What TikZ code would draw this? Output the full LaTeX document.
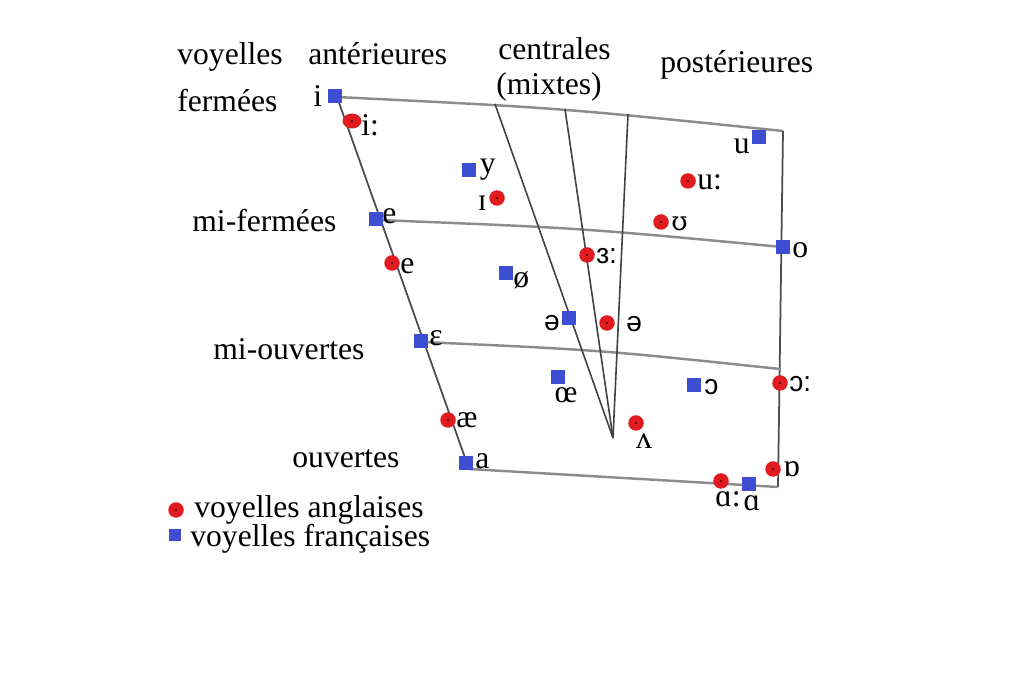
\documentclass[tikz,border=0pt]{standalone}
\usepackage{fontspec}
\usetikzlibrary{shapes.geometric}
\setmainfont{Liberation Serif}
\newfontfamily\ipasans{Liberation Sans}
\newfontfamily\ipaserif{DejaVu Serif}
\begin{document}
\begin{tikzpicture}[x=0.02cm,y=-0.02cm,
  txt/.style={font=\fontsize{18}{20}\selectfont, inner sep=0pt, anchor=base west},
  sym/.style={font=\fontsize{18}{20}\selectfont, inner sep=0pt},
  symsans/.style={font=\fontsize{16}{18}\selectfont\ipasans, inner sep=0pt},
  fr/.style={draw=none, fill=frblue, minimum size=14.5*0.02cm, inner sep=0pt, rectangle},
  en/.style={draw=none, fill=enred, circle, minimum size=15.5*0.02cm, inner sep=0pt,
    path picture={\fill[black!70!red] (path picture bounding box.center) circle (0.6pt);}},
  frame/.style={draw=black!45, line width=1.4pt},
  framedark/.style={draw=black!70, line width=1pt},
  cline/.style={draw=black!75, line width=0.9pt}
]
\definecolor{frblue}{RGB}{62,78,210}
\definecolor{enred}{RGB}{225,28,32}
\useasboundingbox (0,0) rectangle (1018,688);
\fill[white] (0,0) rectangle (1018,688);

% frame corners
\coordinate (TL) at (337,97);
\coordinate (TR) at (783,131);
\coordinate (BR) at (778,487);
\coordinate (BL) at (469,469);
\coordinate (ML1) at (378,220);
\coordinate (MR1) at (782,247);
\coordinate (ML2) at (423,342);
\coordinate (MR2) at (780,369);
\coordinate (C) at (613,438);
\coordinate (c1) at (495,104);
\coordinate (c2) at (565,109);
\coordinate (c3) at (628,114);

% frame
\draw[frame] (TL) .. controls (560,108) .. (TR);
\draw[framedark] (TR) -- (BR);
\draw[frame] (BL) -- (BR);
\draw[framedark] (TL) -- (BL);
\draw[frame] (ML1) .. controls (580,228) .. (MR1);
\draw[frame] (ML2) .. controls (600,350) .. (MR2);
\draw[cline] (c1) -- (C);
\draw[cline] (c2) -- (C);
\draw[cline] (c3) -- (C);

% headings
\node[txt] (hv) at (177,65) {voyelles};
\node[txt] (ha) at (308,65) {antérieures};
\node[txt] (hc) at (498,60) {centrales};
\node[txt] (hm) at (496,95) {(mixtes)};
\node[txt] (hp) at (660,73) {postérieures};
\node[txt] (lf) at (177,112) {fermées};
\node[txt] (lmf) at (192,232) {mi-fermées};
\node[txt] (lmo) at (213,360) {mi-ouvertes};
\node[txt] (lo) at (292,468) {ouvertes};

% French vowels (blue squares)
\node[fr] (fi) at (335,96) {};
\node[sym, anchor=east] (fil) at ([xshift=-5*0.02cm]fi.west) {i};
\node[fr] (fy) at (469,170) {};
\node[sym, anchor=west] (fyl) at ([xshift=3*0.02cm]fy.east) {y};
\node[fr] (fu) at (759,137) {};
\node[sym, anchor=east] (ful) at (750,146) {u};
\node[fr] (fe) at (376,219) {};
\node[sym, anchor=west] (fel) at (382,216) {e};
\node[fr] (fo) at (783,247) {};
\node[sym, anchor=west] (fol) at (792,250) {o};
\node[fr] (foe) at (506,273) {};
\node[sym, anchor=west] (foel) at (513,280) {ø};
\node[fr] (fschwa) at (569,318) {};
\node[symsans, anchor=east] (fschwal) at (560,323) {ə};
\node[fr] (feps) at (421,341) {};
\node[sym, anchor=west] (fepsl) at (429,338) {ɛ};
\node[fr] (foelig) at (558,377) {};
\node[sym] (foeligl) at (566,395) {œ};
\node[fr] (fopen) at (694,385) {};
\node[symsans, anchor=west] (fopenl) at (704,387) {ɔ};
\node[fr] (fa) at (466,463) {};
\node[sym, anchor=west] (fal) at (475,461) {a};
\node[fr] (falpha) at (749,484) {};
\node[sym] (falphal) at (752,503) {ɑ};

% English vowels (red circles)
\node[en, ellipse, minimum width=19*0.02cm, minimum height=15*0.02cm] (ei) at (352,121) {};
\node[sym, anchor=west] (eil) at (361,125) {i:};
\node[en] (eI) at (497,198) {};
\node[sym, anchor=east] (eIl) at (487,203) {ɪ};
\node[en] (eu) at (688,181) {};
\node[sym, anchor=west] (eul) at (697,182) {u:};
\node[en] (eU) at (661,222) {};
\node[font=\fontsize{15}{17}\selectfont\ipaserif, inner sep=0pt, anchor=west] (eUl) at (671,224) {ʊ};
\node[en] (ee) at (392,263) {};
\node[sym, anchor=west] (eel) at (400,266) {e};
\node[en] (e3) at (587,255) {};
\node[symsans, anchor=west] (e3l) at (596,256) {ɜ:};
\node[en] (eschwa) at (607,323) {};
\node[symsans, anchor=west] (eschwal) at (626,324) {ə};
\node[en] (eopen) at (780,383) {};
\node[symsans, anchor=west] (eopenl) at (789,384) {ɔ:};
\node[en] (eae) at (448,420) {};
\node[sym, anchor=west] (eael) at (456,420) {æ};
\node[en] (ev) at (636,423) {};
\node[sym] (evl) at (644,441) {ʌ};
\node[en] (eD) at (773,469) {};
\node[sym, anchor=west] (eDl) at (783,469) {ɒ};
\node[en] (ea) at (721,481) {};
\node[sym] (eal) at (728,499) {ɑ:};

% legend
\node[en] (lgen) at (176,510) {};
\node[txt] (lgent) at (194,518) {voyelles anglaises};
\node[fr, minimum size=12*0.02cm] (lgfr) at (175,535) {};
\node[txt] (lgfrt) at (190,547) {voyelles françaises};
\end{tikzpicture}
\end{document}
